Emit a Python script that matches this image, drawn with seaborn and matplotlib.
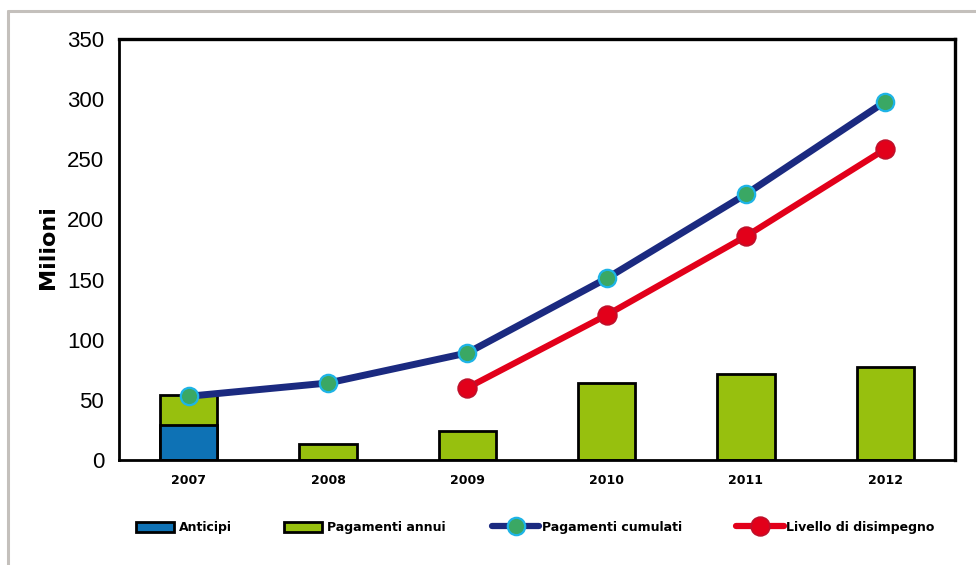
import numpy as np
import pandas as pd
import matplotlib
matplotlib.use("Agg")
import matplotlib.pyplot as plt
from matplotlib.patches import Patch
from matplotlib.lines import Line2D
import seaborn as sns

# ---- data ----
years = ["2007", "2008", "2009", "2010", "2011", "2012"]
anticipi = [29, 0, 0, 0, 0, 0]
pagamenti_annui = [25, 13, 24, 64, 71.5, 77]
pagamenti_cumulati = [53, 64, 89, 151, 221, 298]
livello_years = ["2009", "2010", "2011", "2012"]
livello_disimpegno = [60, 120.5, 186, 258.5]
yticks = [0, 50, 100, 150, 200, 250, 300, 350]
legend_labels = ["Anticipi", "Pagamenti annui", "Pagamenti cumulati", "Livello di disimpegno"]

sns.set_theme(style="white")
plt.rcParams["font.family"] = ["DejaVu Sans"]
plt.rcParams.update({"text.color": "black", "axes.labelcolor": "black",
                     "xtick.color": "black", "ytick.color": "black"})

C_BLUE = "#0e72b5"
C_GREEN = "#97c00e"
C_NAVY = "#1b2a80"
C_RED = "#e2001a"
BLUE_MK = dict(marker="o", markersize=12.5, markerfacecolor="#3aa864",
               markeredgecolor="#1eb4e6", markeredgewidth=1.6)
RED_MK = dict(marker="o", markersize=13.5, markerfacecolor=C_RED,
              markeredgecolor="#c0102a", markeredgewidth=1.2)

fig = plt.figure(figsize=(9.76, 5.65), dpi=100)
ax = fig.add_axes([119 / 976, 1 - 460 / 565, (955 - 119) / 976, (460 - 39) / 565])

totals = [a + p for a, p in zip(anticipi, pagamenti_annui)]
df_bar = pd.DataFrame({"anno": years, "totale": totals, "anticipi": anticipi})

sns.barplot(data=df_bar, x="anno", y="totale", color=C_GREEN, saturation=1,
            width=0.41, edgecolor="black", linewidth=2, ax=ax)
sns.barplot(data=df_bar[df_bar["anticipi"] > 0], x="anno", y="anticipi", color=C_BLUE,
            saturation=1, width=0.41, edgecolor="black", linewidth=2, ax=ax,
            order=years)

pos = {y: i for i, y in enumerate(years)}
df_cum = pd.DataFrame({"x": [pos[y] for y in years], "v": pagamenti_cumulati})
df_liv = pd.DataFrame({"x": [pos[y] for y in livello_years], "v": livello_disimpegno})

sns.lineplot(data=df_cum, x="x", y="v", color=C_NAVY, linewidth=5, ax=ax,
             zorder=5, **BLUE_MK)
sns.lineplot(data=df_liv, x="x", y="v", color=C_RED, linewidth=4.5, ax=ax,
             zorder=5, **RED_MK)

ax.set_xlim(-0.5, len(years) - 0.5)
ax.set_ylim(0, 350)
ax.set_yticks(yticks)
ax.set_yticklabels([str(t) for t in yticks], fontsize=16,
                   family=["Liberation Sans", "DejaVu Sans"])
ax.set_xticks(range(len(years)))
ax.set_xticklabels(years, fontsize=9, fontweight="bold")
ax.set_xticks(np.arange(len(years) + 1) - 0.5, minor=True)
ax.tick_params(axis="x", which="major", length=0, pad=10)
ax.tick_params(axis="x", which="minor", length=4.5, width=2, direction="out", color="black")
ax.tick_params(axis="y", length=3.6, width=1.5, direction="out", color="black", pad=7)
ax.set_xlabel("")
ax.set_ylabel("Milioni", fontsize=16, fontweight="bold", color="black")
ax.yaxis.set_label_coords((58 - 119) / 836, 0.505)

for side, lw in [("left", 2), ("bottom", 2), ("top", 2.4), ("right", 2.4)]:
    ax.spines[side].set_visible(True)
    ax.spines[side].set_color("black")
    ax.spines[side].set_linewidth(lw)

# grey frame lines (top and left)
fig.add_artist(Line2D([8 / 976, 1], [1 - 11 / 565, 1 - 11 / 565], color="#c4c0bc",
                      linewidth=2.2, transform=fig.transFigure))
fig.add_artist(Line2D([8 / 976, 8 / 976], [0, 1 - 11 / 565], color="#c4c0bc",
                      linewidth=2.2, transform=fig.transFigure))

handles = [
    Patch(facecolor=C_BLUE, edgecolor="black", linewidth=2),
    Patch(facecolor=C_GREEN, edgecolor="black", linewidth=2),
    Line2D([], [], color=C_NAVY, linewidth=4.5, **BLUE_MK),
    Line2D([], [], color=C_RED, linewidth=4.5, **RED_MK),
]
starts = [136, 284, 492, 736]
hlen = [3.0, 3.0, 3.8, 3.8]
hpad = [0.45, 0.45, 0.22, 0.22]
for h, lab, x0, hl, hp in zip(handles, legend_labels, starts, hlen, hpad):
    leg = fig.legend([h], [lab], loc="center left", bbox_to_anchor=(x0 / 976, 1 - 527.5 / 565),
                     frameon=False, prop={"weight": "bold", "size": 9},
                     handlelength=hl, handleheight=0.85, handletextpad=hp,
                     borderpad=0, borderaxespad=0)
    for t in leg.get_texts():
        t.set_color("black")

fig.savefig("out.png", dpi=100)
